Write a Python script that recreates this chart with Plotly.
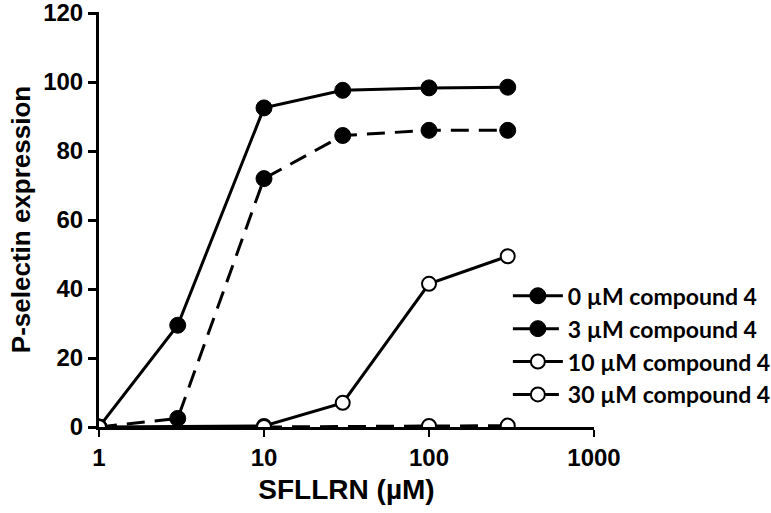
import plotly.graph_objects as go

x_conc = [1, 3, 10, 30, 100, 300]
y_0uM = [0, 29.5, 92.5, 97.6, 98.3, 98.5]
y_3uM = [0, 2.5, 72, 84.5, 86.0, 86.0]
x_10uM = [1, 10, 30, 100, 300]
y_10uM = [0, 0.3, 7, 41.5, 49.5]
x_30uM = [10, 100, 300]
y_30uM = [0, 0.3, 0.4]

names = ["0 \u00b5M compound 4", "3 \u00b5M compound 4", "10 \u00b5M compound 4", "30 \u00b5M compound 4"]
y_ticks = [0, 20, 40, 60, 80, 100, 120]
x_ticks = [1, 10, 100, 1000]

fig = go.Figure()
filled = dict(size=16, color="black", line=dict(color="black", width=1))
opened = dict(size=14, color="white", line=dict(color="black", width=2))
dash = "18px,10px"

fig.add_trace(go.Scatter(x=x_conc, y=y_0uM, mode="lines+markers", name="<b>" + names[0] + "</b>",
                         line=dict(color="black", width=3), marker=filled))
fig.add_trace(go.Scatter(x=x_conc, y=y_3uM, mode="lines+markers", name="<b>" + names[1] + "</b>",
                         line=dict(color="black", width=3, dash=dash), marker=filled))
fig.add_trace(go.Scatter(x=x_10uM, y=y_10uM, mode="lines+markers", name="<b>" + names[2] + "</b>",
                         line=dict(color="black", width=3), marker=opened))
fig.add_trace(go.Scatter(x=x_30uM, y=y_30uM, mode="lines+markers", name="<b>" + names[3] + "</b>",
                         line=dict(color="black", width=3, dash=dash), marker=opened))

fig.update_layout(
    width=771, height=513,
    margin=dict(l=99, r=177, t=12, b=86, autoexpand=False),
    plot_bgcolor="white", paper_bgcolor="white",
    font=dict(family="Liberation Sans, Arial, sans-serif", color="black"),
    legend=dict(x=0.826, y=0.368, xanchor="left", yanchor="top",
                font=dict(family="Lato, Liberation Sans, sans-serif", size=23, color="black"),
                bgcolor="rgba(0,0,0,0)", itemwidth=50, tracegroupgap=0),
    showlegend=True,
)
fig.update_xaxes(type="log", range=[0, 3], tickvals=x_ticks, ticktext=["<b>%d</b>" % v for v in x_ticks],
                 showgrid=False, zeroline=False, showline=True, linecolor="black", linewidth=3,
                 ticks="outside", ticklen=7, tickwidth=2, tickcolor="black", automargin=False,
                 tickfont=dict(size=24), ticklabeloverflow="allow",
                 title=dict(text="<b>SFLLRN (\u00b5M)</b>", font=dict(size=28), standoff=10))
fig.update_yaxes(range=[0, 120.3], tickvals=y_ticks, ticktext=["<b>%d</b>" % v for v in y_ticks],
                 showgrid=False, zeroline=False, showline=True, linecolor="black", linewidth=3,
                 ticks="outside", ticklen=8, tickwidth=3, tickcolor="black", automargin=False,
                 tickfont=dict(size=24), ticklabeloverflow="allow",
                 title=dict(text="<b>P-selectin expression</b>", font=dict(size=26), standoff=6))

fig.write_html("out.html", config={"displayModeBar": False},
               post_script="document.body.style.margin='0';")
